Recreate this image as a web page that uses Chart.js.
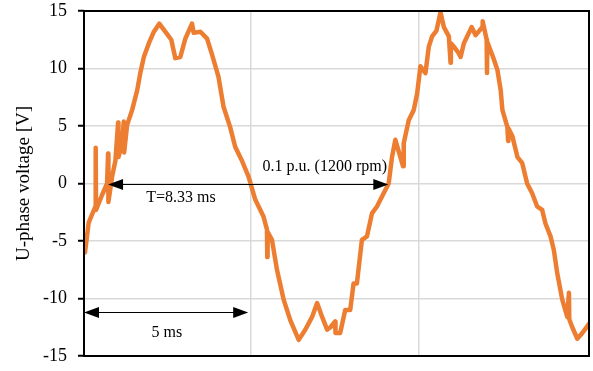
<!DOCTYPE html>
<html>
<head>
<meta charset="utf-8">
<script src="https://cdn.jsdelivr.net/npm/chart.js@4.4.0/dist/chart.umd.min.js"></script>
<style>
  html, body { margin: 0; padding: 0; background: #fff; }
  #wrap { width: 593px; height: 371px; }
</style>
</head>
<body>
<div id="wrap"><canvas id="myChart" width="593" height="371"></canvas></div>
<script>
// time in ms, U-phase voltage in V
var timeMs = [
  0, 0.03, 0.14, 0.34, 0.35, 0.36, 0.54, 0.69, 0.72, 0.73,
  0.84, 0.94, 1.02, 1.03, 1.14, 1.19, 1.20, 1.29, 1.44, 1.59,
  1.69, 1.79, 1.94, 2.09, 2.25, 2.43, 2.61, 2.73, 2.88, 3.03,
  3.23, 3.28, 3.48, 3.68, 3.82, 4.02, 4.17, 4.37, 4.52, 4.72,
  4.92, 5.12, 5.37, 5.47, 5.48, 5.49, 5.62, 5.77, 5.97, 6.17,
  6.42, 6.62, 6.82, 6.97, 7.12, 7.27, 7.37, 7.51, 7.52, 7.66,
  7.81, 7.96, 8.06, 8.16, 8.31, 8.46, 8.61, 8.76, 8.96, 9.11,
  9.21, 9.31, 9.54, 9.56, 9.71, 9.86, 9.96, 10.06, 10.21, 10.31,
  10.41, 10.54, 10.66, 10.76, 10.91, 10.96, 10.97, 11.06, 11.21, 11.26,
  11.36, 11.51, 11.59, 11.71, 11.91, 11.92, 12.04, 12.05, 12.06, 12.23,
  12.36, 12.46, 12.51, 12.66, 12.68, 12.69, 12.81, 12.96, 13.10, 13.25,
  13.40, 13.55, 13.70, 13.80, 13.95, 14.05, 14.15, 14.30, 14.45, 14.50,
  14.51, 14.60, 14.75, 14.90, 15.10
];
var voltage = [
  -4.5, -6.0, -3.4, -2.0, 3.1, -2.3, -1.0, 0, 2.6, -1.6,
  0.6, 2.0, 5.3, 2.3, 3.5, 5.4, 2.7, 5.1, 6.4, 8.1,
  9.7, 11.0, 12.2, 13.2, 13.9, 13.2, 12.5, 10.9, 11.0, 12.6,
  13.9, 13.1, 13.2, 12.6, 11.3, 9.3, 6.7, 4.9, 3.2, 2.0,
  0.6, -1.4, -2.9, -4.0, -6.4, -4.2, -4.9, -7.5, -10.1, -11.9,
  -13.6, -12.7, -11.6, -10.4, -11.6, -12.7, -12.5, -12.0, -13.0, -13.0,
  -11.0, -11.0, -8.7, -8.7, -4.9, -4.6, -2.6, -2.0, -0.85, 0,
  2.3, 3.8, 1.5, 3.5, 5.5, 6.4, 7.8, 10.2, 9.6, 11.9,
  12.8, 13.3, 14.9, 13.6, 12.8, 10.5, 12.2, 11.9, 11.3, 11.0,
  12.2, 13.1, 13.6, 12.9, 13.6, 14.1, 12.5, 9.6, 12.3, 11.0,
  9.9, 8.1, 6.4, 4.9, 3.7, 4.8, 4.1, 2.3, 1.8, 0,
  -0.85, -2.0, -2.3, -3.5, -4.6, -5.8, -7.8, -10.1, -11.6, -9.5,
  -11.8, -12.5, -13.5, -13.0, -12.2
];

var yTicks = [-15, -10, -5, 0, 5, 10, 15];
var xGrid = [5, 10];

// arrows: start ms, end ms, level V
var arrowFrom = [0.72, 0];
var arrowTo = [9.10, 4.91];
var arrowAt = [0, -11.2];

// notes: text, centre ms, centre V
var noteText = ['T=8.33 ms', '0.1 p.u. (1200 rpm)', '5 ms'];
var noteX = [2.9, 7.2, 2.48];
var noteY = [-1.2, 1.46, -12.97];

var pts = timeMs.map(function (t, i) {
    return { x: t, y: voltage[i] };
});

function arrowHead(ctx, x, y, dir) {
    ctx.beginPath();
    ctx.moveTo(x, y);
    ctx.lineTo(x - dir * 15, y - 5.5);
    ctx.lineTo(x - dir * 15, y + 5.5);
    ctx.closePath();
    ctx.fill();
}

var extras = {
    id: 'extras',
    afterDatasetsDraw: function (chart) {
        var ctx = chart.ctx;
        var xs = chart.scales.x;
        var ys = chart.scales.y;
        var a = chart.chartArea;
        ctx.save();
        // frame
        ctx.strokeStyle = '#000';
        ctx.lineWidth = 2;
        ctx.strokeRect(a.left, a.top, a.right - a.left, a.bottom - a.top);

        ctx.fillStyle = '#000';
        ctx.lineWidth = 1;
        for (var i = 0; i < arrowFrom.length; i++) {
            var x1 = xs.getPixelForValue(arrowFrom[i]);
            var x2 = xs.getPixelForValue(arrowTo[i]);
            var y = Math.round(ys.getPixelForValue(arrowAt[i])) + 0.5;
            ctx.beginPath();
            ctx.moveTo(x1 + 10, y);
            ctx.lineTo(x2 - 10, y);
            ctx.stroke();
            arrowHead(ctx, x1, y, -1);
            arrowHead(ctx, x2, y, 1);
        }

        ctx.font = '16px "Liberation Serif", "Times New Roman", serif';
        ctx.textAlign = 'center';
        ctx.textBaseline = 'middle';
        for (var j = 0; j < noteText.length; j++) {
            ctx.fillText(noteText[j], xs.getPixelForValue(noteX[j]), ys.getPixelForValue(noteY[j]));
        }
        ctx.restore();
    }
};

const ctx = document.getElementById('myChart');
var chart = new Chart(ctx, {
    type: 'line',
    data: {
        datasets: [{
            data: pts,
            borderColor: '#ED7D31',
            borderWidth: 4.5,
            pointRadius: 0,
            tension: 0,
            borderJoinStyle: 'round',
            borderCapStyle: 'round'
        }]
    },
    options: {
        responsive: false,
        animation: false,
        events: [],
        layout: { padding: { left: 0, top: 11, right: 4, bottom: 15 } },
        plugins: {
            legend: { display: false },
            tooltip: { enabled: false }
        },
        scales: {
            x: {
                type: 'linear',
                min: 0,
                max: 15.1,
                afterBuildTicks: function (scale) {
                    scale.ticks = xGrid.map(function (v) { return { value: v }; });
                },
                afterFit: function (scale) {
                    scale.height = 0;
                    scale.paddingLeft = 0;
                    scale.paddingRight = 0;
                },
                ticks: { display: false },
                grid: { color: '#d9d9d9', lineWidth: 1.5, drawTicks: false },
                border: { display: false }
            },
            y: {
                min: -15,
                max: 15,
                afterBuildTicks: function (scale) {
                    scale.ticks = yTicks.map(function (v) { return { value: v }; });
                },
                afterFit: function (scale) {
                    scale.width = 84;
                    scale.paddingTop = 0;
                    scale.paddingBottom = 0;
                },
                ticks: {
                    color: '#000',
                    padding: 11,
                    font: { family: '"Liberation Serif", serif', size: 18 }
                },
                grid: { color: '#d9d9d9', lineWidth: 1.5, tickColor: '#000', tickLength: 6, tickWidth: 2 },
                border: { display: false },
                title: {
                    display: true,
                    text: 'U-phase voltage [V]',
                    color: '#000',
                    padding: { top: 13, bottom: 0 },
                    font: { family: '"Liberation Serif", serif', size: 19, weight: 'normal' }
                }
            }
        }
    },
    plugins: [extras]
});
</script>
</body>
</html>
